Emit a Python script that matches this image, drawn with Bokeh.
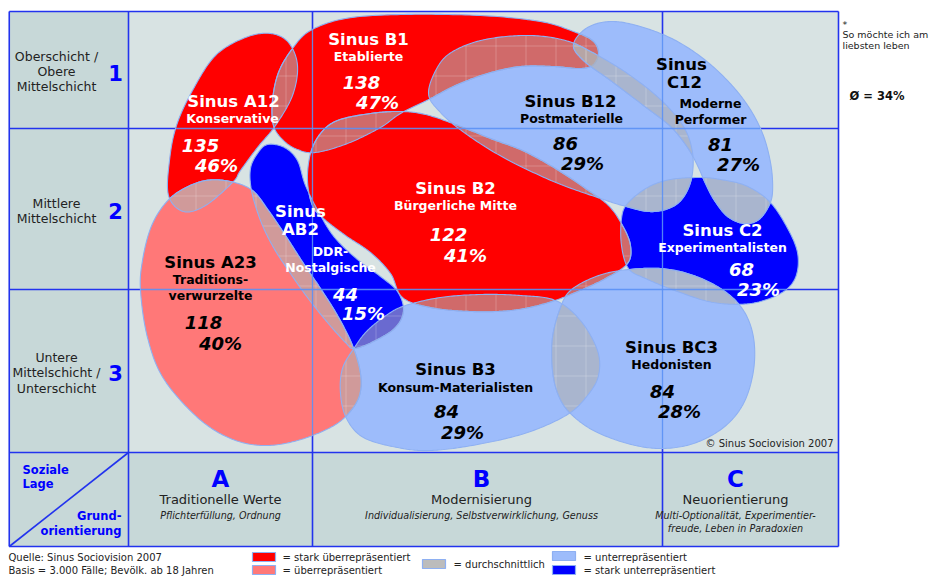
import numpy as np
from bokeh.plotting import figure
from bokeh.models import Range1d, ColumnDataSource
from bokeh.core.properties import value
from bokeh.embed import file_html
from bokeh.resources import INLINE

# ---------------- data ----------------
milieu_codes = ["A12", "B1", "B12", "C12", "B2", "AB2", "A23", "C2", "B3", "BC3"]
milieu_titles = ["Sinus A12", "Sinus B1", "Sinus B12", "Sinus\nC12", "Sinus B2",
                 "Sinus\nAB2", "Sinus A23", "Sinus C2", "Sinus B3", "Sinus BC3"]
milieu_names = ["Konservative", "Etablierte", "Postmaterielle", "Moderne\nPerformer",
                "Bürgerliche Mitte", "DDR-\nNostalgische", "Traditions-\nverwurzelte",
                "Experimentalisten", "Konsum-Materialisten", "Hedonisten"]
index_values = [135, 138, 86, 81, 122, 44, 118, 68, 84, 84]
share_pct = [46, 47, 29, 27, 41, 15, 40, 23, 29, 28]
representation = ["stark über", "stark über", "unter", "unter", "stark über",
                  "stark unter", "über", "stark unter", "unter", "unter"]
average_share = 34

row_labels = [["Oberschicht /", "Obere", "Mittelschicht"], ["Mittlere", "Mittelschicht"],
              ["Untere", "Mittelschicht /", "Unterschicht"]]
row_numbers = ["1", "2", "3"]
col_letters = ["A", "B", "C"]
col_titles = ["Traditionelle Werte", "Modernisierung", "Neuorientierung"]
col_subtitles = [["Pflichterfüllung, Ordnung"],
                 ["Individualisierung, Selbstverwirklichung, Genuss"],
                 ["Multi-Optionalität, Experimentier-", "freude, Leben in Paradoxien"]]
legend_labels = ["= stark überrepräsentiert", "= überrepräsentiert", "= durchschnittlich",
                 "= unterrepräsentiert", "= stark unterrepräsentiert"]

# ---------------- styles / layout ----------------
RED, LRED, LBLUE, DBLUE, GREY = "#ff0000", "#ff7878", "#9dbcfb", "#0000ff", "#bcbcbc"
FILL = {"stark über": RED, "über": LRED, "unter": LBLUE, "stark unter": DBLUE}
TXT = {"stark über": "white", "über": "black", "unter": "black", "stark unter": "white"}
EDGE = "#8eb0f2"
FRAME = "#2233ee"
FONT = "DejaVu Sans"

# blob outlines (control points of closed smooth curves, page pixel coordinates)
SHAPES = {
    "A12": [(270, 33), (288, 42), (297, 65), (292, 95), (275, 125), (257, 147), (240, 170),
            (232, 182), (205, 205), (183, 211), (168, 195), (169, 160), (176, 125),
            (192, 90), (215, 55), (245, 37)],
    "B1": [(292, 48), (310, 30), (345, 18), (400, 14), (480, 15), (540, 21), (573, 31),
           (592, 40), (598, 52), (593, 64), (580, 68), (553, 66), (520, 66), (487, 73),
           (455, 85), (430, 98), (400, 113), (380, 127), (347, 143), (315, 152),
           (297, 149), (283, 140), (273, 125), (272, 100), (278, 72)],
    "B12": [(428, 92), (440, 62), (460, 47), (490, 38), (530, 35), (565, 40), (592, 52),
            (627, 73), (660, 99), (683, 126), (692, 152), (691, 178), (682, 198),
            (668, 208), (648, 211), (622, 205), (600, 198), (553, 181), (503, 157),
            (465, 133), (440, 112)],
    "C12": [(573, 44), (587, 27), (612, 21), (643, 27), (677, 41), (710, 64), (740, 95),
            (760, 128), (770, 162), (772, 192), (767, 208), (757, 220), (743, 223),
            (727, 216), (714, 200), (705, 183), (697, 165), (687, 147), (670, 126),
            (643, 105), (610, 80), (583, 60)],
    "B2": [(310, 153), (320, 133), (337, 120), (370, 113), (400, 111), (425, 114),
           (455, 124), (490, 138), (522, 150), (555, 168), (585, 188), (608, 205),
           (622, 225), (630, 245), (627, 263), (605, 278), (575, 292), (545, 303),
           (510, 310), (470, 311), (430, 307), (402, 297), (390, 273), (370, 252),
           (345, 235), (323, 218), (312, 205), (307, 180)],
    "AB2": [(267, 144), (284, 147), (297, 160), (305, 185), (320, 215), (335, 238),
            (357, 259), (380, 276), (397, 291), (403, 310), (395, 327), (375, 340),
            (354, 348), (345, 342), (327, 322), (307, 297), (290, 273), (273, 247),
            (260, 220), (251, 190), (250, 168), (257, 153)],
    "A23": [(140, 290), (142, 260), (150, 228), (163, 205), (180, 190), (205, 180),
            (230, 181), (252, 190), (268, 210), (285, 235), (303, 263), (320, 288),
            (337, 315), (352, 345), (360, 373), (359, 395), (348, 413), (330, 427),
            (297, 440), (263, 445), (230, 438), (197, 417), (163, 378), (147, 337)],
    "C2": [(621, 218), (627, 203), (647, 187), (670, 179), (700, 177), (720, 179),
           (745, 185), (768, 200), (785, 224), (797, 252), (795, 277), (780, 293),
           (750, 303), (713, 302), (677, 291), (645, 278), (628, 268), (621, 245)],
    "B3": [(354, 347), (367, 330), (387, 314), (405, 305), (440, 297), (480, 294),
           (520, 295), (555, 300), (580, 320), (597, 350), (598, 375), (587, 395),
           (567, 414), (527, 432), (477, 444), (430, 450), (397, 447), (363, 437),
           (346, 418), (340, 393), (342, 368)],
    "BC3": [(560, 307), (570, 290), (593, 277), (620, 270), (660, 268), (693, 275),
            (723, 290), (743, 310), (753, 337), (753, 370), (743, 403), (723, 427),
            (693, 443), (660, 448), (627, 443), (593, 430), (570, 413), (558, 395),
            (552, 370), (552, 337)],
}
DRAW_ORDER = ["C2", "B3", "BC3", "B12", "C12", "AB2", "A12", "B1", "A23", "B2"]

LABEL_POS = {
    "A12": dict(title=[(233, 101)], name=[(232, 118)], idx=(200, 145), pct=(216, 165)),
    "B1": dict(title=[(368, 39)], name=[(368, 56)], idx=(361, 82), pct=(377, 102)),
    "B12": dict(title=[(570, 101)], name=[(571, 118)], idx=(565, 143), pct=(582, 163)),
    "C12": dict(title=[(681, 64), (684, 82)], name=[(710, 103), (710, 119)], idx=(720, 144), pct=(738, 164)),
    "B2": dict(title=[(455, 188)], name=[(455, 205)], idx=(448, 234), pct=(465, 255)),
    "AB2": dict(title=[(300, 211), (300, 229)], name=[(330, 251), (330, 267)], idx=(345, 294), pct=(363, 313)),
    "A23": dict(title=[(210, 262)], name=[(210, 279), (210, 295)], idx=(203, 322), pct=(220, 343)),
    "C2": dict(title=[(722, 230)], name=[(722, 247)], idx=(741, 269), pct=(758, 289)),
    "B3": dict(title=[(455, 369)], name=[(455, 387)], idx=(446, 411), pct=(462, 432)),
    "BC3": dict(title=[(671, 347)], name=[(671, 364)], idx=(662, 391), pct=(679, 411)),
}

X0, XL, XB, XC, X1 = 8.75, 128, 312, 662, 838
Y0, Y1R, Y2R, YB, Y1 = 11, 128, 289, 452, 546


# ---------------- geometry helpers ----------------
def smooth_closed(pts, n=20):
    P = np.array(pts, float)
    N = len(P)
    t = np.linspace(0, 1, n, endpoint=False)[:, None]
    out = []
    for i in range(N):
        p0, p1, p2, p3 = P[(i - 1) % N], P[i], P[(i + 1) % N], P[(i + 2) % N]
        out.append(0.5 * (2 * p1 + (-p0 + p2) * t + (2 * p0 - 5 * p1 + 4 * p2 - p3) * t ** 2
                          + (-p0 + 3 * p1 - 3 * p2 + p3) * t ** 3))
    poly = np.vstack(out)
    area = 0.5 * np.sum(poly[:, 0] * np.roll(poly[:, 1], -1) - np.roll(poly[:, 0], -1) * poly[:, 1])
    return poly if area > 0 else poly[::-1]


def inside(poly, pts):
    x, y = pts[:, 0][:, None], pts[:, 1][:, None]
    x1, y1 = poly[:, 0][None, :], poly[:, 1][None, :]
    x2, y2 = np.roll(poly[:, 0], -1)[None, :], np.roll(poly[:, 1], -1)[None, :]
    cond = (y1 > y) != (y2 > y)
    dy = np.where(y2 == y1, 1e-12, y2 - y1)
    xint = x1 + (y - y1) * (x2 - x1) / dy
    return (np.sum(cond & (x < xint), axis=1) % 2) == 1


def runs(mask):
    n = len(mask)
    if not mask.any():
        return []
    if mask.all():
        return [np.arange(n)]
    start = int(np.argmin(mask))
    res, cur = [], []
    for k in range(n):
        i = (start + k) % n
        if mask[i]:
            cur.append(i)
        elif cur:
            res.append(np.array(cur)); cur = []
    if cur:
        res.append(np.array(cur))
    return res


def intersect(A, B):
    ra = [A[r] for r in runs(inside(B, A))]
    rb = [B[r] for r in runs(inside(A, B))]
    if not ra or not rb:
        return []
    sa, sb = list(range(len(ra))), list(range(len(rb)))
    polys = []
    while sa:
        i0 = sa.pop(0)
        chain = [ra[i0]]
        end = ra[i0][-1]
        while sb:
            j = min(sb, key=lambda k: np.hypot(*(rb[k][0] - end)))
            sb.remove(j); chain.append(rb[j]); end = rb[j][-1]
            if not sa:
                break
            k = min(sa, key=lambda k: np.hypot(*(ra[k][0] - end)))
            if np.hypot(*(ra[i0][0] - end)) <= np.hypot(*(ra[k][0] - end)):
                break
            sa.remove(k); chain.append(ra[k]); end = ra[k][-1]
        poly = np.vstack(chain)
        area = abs(0.5 * np.sum(poly[:, 0] * np.roll(poly[:, 1], -1) - np.roll(poly[:, 0], -1) * poly[:, 1]))
        if area > 6:
            polys.append(poly)
    return polys


curves = {c: smooth_closed(SHAPES[c]) for c in milieu_codes}

# ---------------- figure ----------------
W, H = 934, 576
p = figure(width=W, height=H, x_range=Range1d(0, W), y_range=Range1d(H, 0),
           output_backend="svg", toolbar_location=None, min_border=0,
           x_axis_location=None, y_axis_location=None)
p.xgrid.visible = False
p.ygrid.visible = False
p.outline_line_color = None
p.background_fill_color = "white"
p.border_fill_color = "white"


def add_text(xs, ys, texts, size, color, style="normal", align="center", baseline="middle"):
    src = ColumnDataSource(dict(x=list(xs), y=list(ys), t=list(texts)))
    p.text(x="x", y="y", text="t", source=src, text_font=value(FONT),
           text_font_size=f"{size}px", text_font_style=style, text_color=color,
           text_align=align, text_baseline=baseline)


# backgrounds
p.quad(left=[XL], right=[X1], top=[Y0], bottom=[YB], fill_color="#d8e3e3", line_color=None)
p.quad(left=[X0, XL], right=[XL, X1], top=[Y0, YB], bottom=[Y1, Y1], fill_color="#c7d8d8", line_color=None)

# frame lines
fx = [[X0, X1], [X0, X1], [X0, X1], [X0, X1], [X0, X1], [X0, X0], [XL, XL], [XB, XB], [XC, XC], [X1, X1], [X0, XL]]
fy = [[Y0, Y0], [Y1R, Y1R], [Y2R, Y2R], [YB, YB], [Y1, Y1], [Y0, Y1], [Y0, Y1], [Y0, Y1], [Y0, Y1], [Y0, Y1], [Y1, YB]]
p.multi_line(xs=fx, ys=fy, line_color=FRAME, line_width=1.6)

# blobs
order_idx = [milieu_codes.index(c) for c in DRAW_ORDER]
p.patches(xs=[list(curves[c][:, 0]) for c in DRAW_ORDER],
          ys=[list(curves[c][:, 1]) for c in DRAW_ORDER],
          fill_color=[FILL[representation[i]] for i in order_idx],
          line_color=EDGE, line_width=1.1)

# overlaps (durchschnittlich)
ox, oy = [], []
for i in range(len(milieu_codes)):
    for j in range(i + 1, len(milieu_codes)):
        A, B = curves[milieu_codes[i]], curves[milieu_codes[j]]
        if A[:, 0].max() < B[:, 0].min() or B[:, 0].max() < A[:, 0].min():
            continue
        if A[:, 1].max() < B[:, 1].min() or B[:, 1].max() < A[:, 1].min():
            continue
        for poly in intersect(A, B):
            ox.append(list(poly[:, 0])); oy.append(list(poly[:, 1]))
p.patches(xs=ox, ys=oy, fill_color="#b0b0b0", fill_alpha=0.6, line_color=EDGE, line_width=1.1,
          hatch_pattern="+", hatch_scale=30, hatch_color="white", hatch_alpha=0.25, hatch_weight=0.8)

# grid lines over blobs (light)
seg_x, seg_y = [], []
all_polys = list(curves.values())
for orient, c, a, b in [("h", Y1R, XL, X1), ("h", Y2R, XL, X1), ("v", XB, Y0, YB), ("v", XC, Y0, YB)]:
    s = np.arange(a, b + 0.01, 0.5)
    pts = np.column_stack([s, np.full_like(s, c)]) if orient == "h" else np.column_stack([np.full_like(s, c), s])
    m = np.zeros(len(s), bool)
    for poly in all_polys:
        m |= inside(poly, pts)
    k = 0
    while k < len(s):
        if m[k]:
            e = k
            while e + 1 < len(s) and m[e + 1]:
                e += 1
            if orient == "h":
                seg_x.append([s[k], s[e]]); seg_y.append([c, c])
            else:
                seg_x.append([c, c]); seg_y.append([s[k], s[e]])
            k = e + 1
        else:
            k += 1
p.multi_line(xs=seg_x, ys=seg_y, line_color="#5b90f5", line_width=1.3, line_alpha=0.9)

# milieu labels
for i, code in enumerate(milieu_codes):
    pos = LABEL_POS[code]
    col = TXT[representation[i]]
    tl = milieu_titles[i].split("\n")
    add_text([q[0] for q in pos["title"]], [q[1] for q in pos["title"]], tl, 16.5, col, "bold")
    nl = milieu_names[i].split("\n")
    add_text([q[0] for q in pos["name"]], [q[1] for q in pos["name"]], nl, 12.5, col, "bold")
    add_text([pos["idx"][0], pos["pct"][0]], [pos["idx"][1], pos["pct"][1]],
             [str(index_values[i]), f"{share_pct[i]}%"], 18, col, "bold italic")

# row labels
row_line_y = [[56, 71, 86], [203, 218], [357, 372, 388]]
row_num_y = [72, 210, 372]
for r in range(3):
    add_text([56] * len(row_labels[r]), row_line_y[r], row_labels[r], 12.5, "#222222")
add_text([115] * 3, row_num_y, row_numbers, 21, DBLUE, "bold")

# corner cell
add_text([22, 22], [469, 483], ["Soziale", "Lage"], 11.5, DBLUE, "bold", align="left")
add_text([121, 121], [515, 530], ["Grund-", "orientierung"], 11.5, DBLUE, "bold", align="right")

# column labels
col_cx = [220, 481, 735]
add_text(col_cx, [478] * 3, col_letters, 23, DBLUE, "bold")
add_text(col_cx, [499] * 3, col_titles, 13, "#222222")
for ci in range(3):
    ys = [515 + 13 * k for k in range(len(col_subtitles[ci]))]
    add_text([col_cx[ci]] * len(ys), ys, col_subtitles[ci], 9.6, "#222222", "italic")

# side notes
add_text([842, 842, 842], [24, 34, 45], ["*", "So möchte ich am", "liebsten leben"], 9.5, "#222222", align="left")
add_text([849], [95], [f"Ø = {average_share}%"], 11.5, "#111111", "bold", align="left")
add_text([833], [443], ["© Sinus Sociovision 2007"], 10, "#222222", align="right")
add_text([8, 8], [557, 570], ["Quelle: Sinus Sociovision 2007", "Basis = 3.000 Fälle; Bevölk. ab 18 Jahren"],
         10, "#222222", align="left")

# legend
sw_l = [252, 252, 422, 552, 552]
sw_t = [552, 565, 559, 551, 565]
sw_col = [RED, LRED, GREY, LBLUE, DBLUE]
p.quad(left=sw_l, right=[v + 23 for v in sw_l], top=sw_t, bottom=[v + 9 for v in sw_t],
       fill_color=sw_col, line_color=EDGE, line_width=1.2)
add_text([282, 282, 453, 583, 583], [557, 570, 564, 557, 570], legend_labels, 10, "#222222", align="left")

open("out.html", "w").write(file_html(p, INLINE))
